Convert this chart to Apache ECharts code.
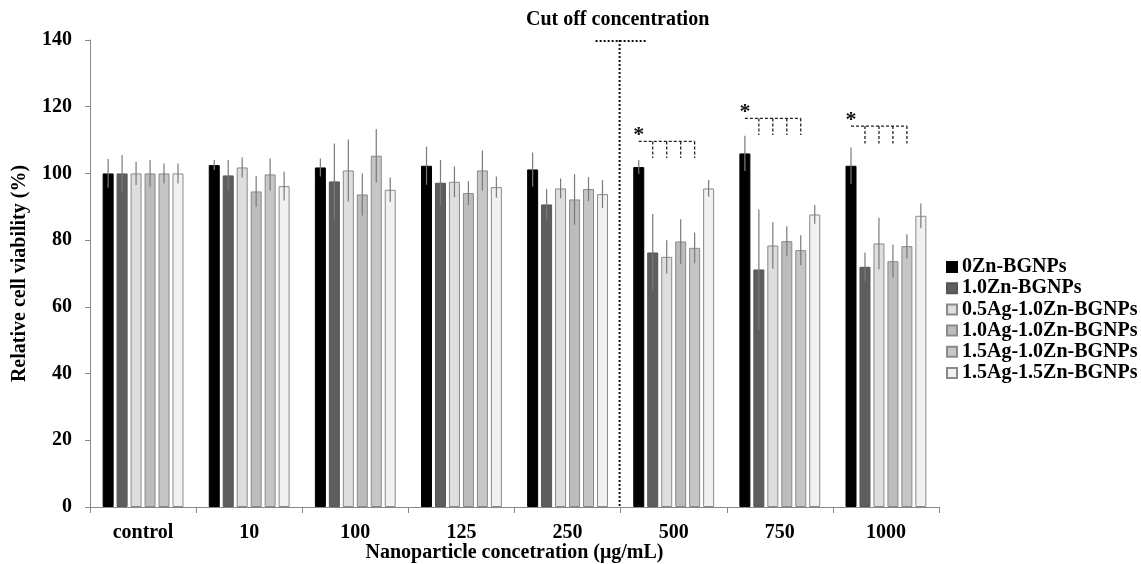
<!DOCTYPE html>
<html><head><meta charset="utf-8">
<script src="https://cdn.jsdelivr.net/npm/echarts@6/dist/echarts.min.js"></script>
<style>html,body{margin:0;padding:0;background:#fff}#c{width:1141px;height:564px}</style>
</head><body><div id="c"></div>
<script>
var categories = ['control','10','100','125','250','500','750','1000'];
var seriesNames = ['0Zn-BGNPs','1.0Zn-BGNPs','0.5Ag-1.0Zn-BGNPs','1.0Ag-1.0Zn-BGNPs','1.5Ag-1.0Zn-BGNPs','1.5Ag-1.5Zn-BGNPs'];
var s0 = [100,102.5,101.8,102.3,101.2,101.9,106,102.3];
var s1 = [100,99.4,97.6,97.2,90.7,76.3,71.2,72];
var s2 = [100,101.8,100.9,97.5,95.5,75,78.4,79];
var s3 = [100,94.6,93.7,94.1,92.2,79.6,79.7,73.7];
var s4 = [100,99.7,105.3,100.9,95.3,77.7,77,78.2];
var s5 = [100,96.2,95.1,95.9,93.8,95.5,87.7,87.3];
var e0 = [4.3,1.5,2.7,5.7,5.1,2.1,5.3,5.5];
var e1 = [5.5,4.6,11.4,6.8,4.6,11.5,18,4.3];
var e2 = [3.5,3,9.3,4.6,3,5,7,7.7];
var e3 = [4,4.6,6.3,3.6,7.6,6.7,4.5,5];
var e4 = [3,4.8,8,6,3.6,4.6,4.5,3.6];
var e5 = [3,4.3,3.7,3.2,4.2,2.5,2.8,3.7];
// significance brackets: [category index, bracket line value, drop end value]
var sigBrackets = [[5,109.6,104.6],[6,116.5,111.5],[7,114.2,109]];
var cutoffCategory = 4; // line drawn after this category
var cutoffLabel = 'Cut off concentration';
var yTicks = {min:0, max:140, interval:20};

var values = [s0,s1,s2,s3,s4,s5];
var errs = [e0,e1,e2,e3,e4,e5];
var colors = ['#000000','#5e5e5e','#dedede','#bcbcbc','#c6c6c6','#f1f1f1'];
var borders = ['#000000','#555555','#8a8a8a','#8a8a8a','#8a8a8a','#8a8a8a'];
var BW = 11, GAP = 0.27, PITCH = BW*(1+GAP);
var FONT = '"Liberation Serif","Times New Roman",serif';

var series = [];
for (var i=0;i<6;i++){
  series.push({name:seriesNames[i], type:'bar', data:values[i], barWidth:BW, barGap:(GAP*100)+'%',
    itemStyle:{color:colors[i], borderColor:borders[i], borderWidth:1}, z:2});
}
var errData = [];
for (var i=0;i<6;i++) for (var j=0;j<categories.length;j++) errData.push([j,i,values[i][j],errs[i][j]]);
series.push({type:'custom', data:errData, z:5, silent:true,
  renderItem:function(params, api){
    var c = api.value(0), k = api.value(1), v = api.value(2), e = api.value(3);
    var p1 = api.coord([c, v+e]), p2 = api.coord([c, v-e]);
    var x = p1[0] + (k-2.5)*PITCH;
    return {type:'line', shape:{x1:x,y1:p1[1],x2:x,y2:p2[1]}, style:{stroke:'#7a7a7a', lineWidth:1.2}};
  }});
series.push({type:'custom', data:sigBrackets, z:6, silent:true,
  renderItem:function(params, api){
    var c = api.value(0), ly = api.value(1), dy = api.value(2);
    var p = api.coord([c, ly]), pd = api.coord([c, dy]);
    var xs = []; for (var k=0;k<5;k++) xs.push(p[0]+(k-2.5)*PITCH);
    var ch = [{type:'line', shape:{x1:xs[0],y1:p[1],x2:xs[4],y2:p[1]}, style:{stroke:'#222', lineWidth:1.3, lineDash:[3,2]}}];
    for (var k=1;k<5;k++) ch.push({type:'line', shape:{x1:xs[k],y1:p[1],x2:xs[k],y2:pd[1]}, style:{stroke:'#222', lineWidth:1.3, lineDash:[3,2]}});
    ch.push({type:'text', style:{text:'*', x:xs[0], y:p[1]+5, textAlign:'center', textVerticalAlign:'bottom', font:'bold 22px '+FONT, fill:'#111'}});
    return {type:'group', children:ch};
  }});
series.push({type:'custom', data:[[cutoffCategory]], z:6, silent:true,
  renderItem:function(params, api){
    var c = api.value(0);
    var top = api.coord([c, yTicks.max]), bot = api.coord([c, 0]);
    var x = top[0] + api.size([1,0])[0]/2 - 1;
    return {type:'group', children:[
      {type:'line', shape:{x1:x,y1:top[1],x2:x,y2:bot[1]}, style:{stroke:'#111', lineWidth:2, lineDash:[2,2]}},
      {type:'line', shape:{x1:x-24,y1:top[1]+1,x2:x+26,y2:top[1]+1}, style:{stroke:'#111', lineWidth:2, lineDash:[2,2]}},
      {type:'text', style:{text:cutoffLabel, x:x-2, y:top[1]-10, textAlign:'center', textVerticalAlign:'bottom', font:'bold 20px '+FONT, fill:'#000'}}
    ]};
  }});

var chart = echarts.init(document.getElementById('c'));
chart.setOption({
  animation:false,
  grid:{left:90, right:202, top:40, bottom:57, containLabel:false, outerBoundsMode:'none'},
  legend:{orient:'vertical', left:941, top:252, itemWidth:10, itemHeight:10, itemGap:1.2, itemTextGap:6, icon:'rect',
    data:seriesNames, textStyle:{fontFamily:FONT, fontWeight:'bold', fontSize:20, color:'#000', lineHeight:20}, selectedMode:false},
  xAxis:{type:'category', data:categories,
    axisLine:{lineStyle:{color:'#888', width:1}}, axisTick:{show:true, length:6, lineStyle:{color:'#888'}},
    axisLabel:{fontFamily:FONT, fontWeight:'bold', fontSize:20, color:'#000', margin:16},
    name:'Nanoparticle concetration (μg/mL)', nameLocation:'middle', nameGap:36, nameMoveOverlap:false,
    nameTextStyle:{fontFamily:FONT, fontWeight:'bold', fontSize:20, color:'#000'}},
  yAxis:{type:'value', min:yTicks.min, max:yTicks.max, interval:yTicks.interval,
    axisLine:{show:true, lineStyle:{color:'#888', width:1}}, axisTick:{show:true, length:5, lineStyle:{color:'#888'}},
    splitLine:{show:false},
    axisLabel:{fontFamily:FONT, fontWeight:'bold', fontSize:20, color:'#000', margin:18},
    name:'Relative cell viability (%)', nameLocation:'middle', nameGap:60, nameRotate:90, nameMoveOverlap:false,
    nameTextStyle:{fontFamily:FONT, fontWeight:'bold', fontSize:20, color:'#000'}},
  series:series
});
</script></body></html>
